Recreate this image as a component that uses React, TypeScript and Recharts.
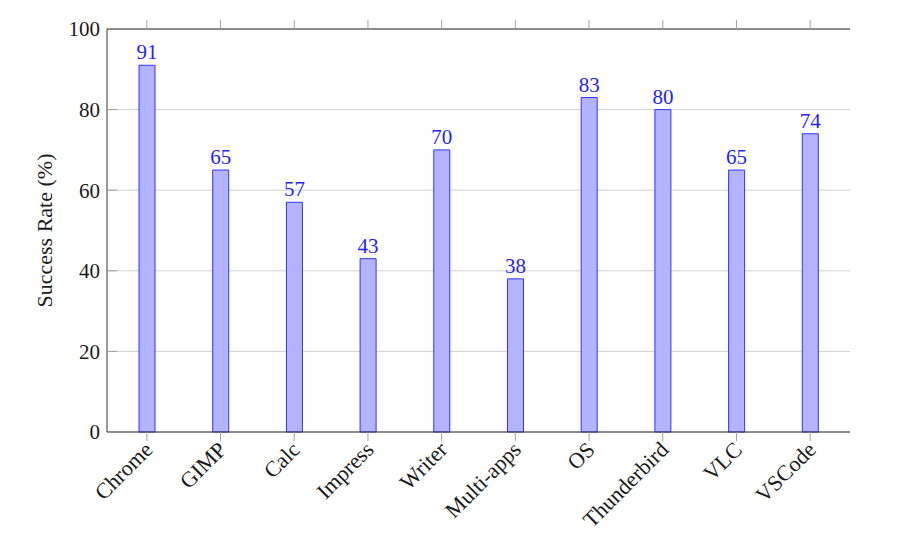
import { Bar, BarChart, CartesianGrid, Label, LabelList, ReferenceLine, XAxis, YAxis } from 'recharts'

const APPS = ['Chrome', 'GIMP', 'Calc', 'Impress', 'Writer', 'Multi-apps', 'OS', 'Thunderbird', 'VLC', 'VSCode']
const SUCCESS_RATE = [91, 65, 57, 43, 70, 38, 83, 80, 65, 74]
const Y_TICKS = [0, 20, 40, 60, 80, 100]

const rows = APPS.map((app, i) => ({ app, rate: SUCCESS_RATE[i] }))

const FONT = '"Liberation Serif", "Times New Roman", serif'
const INK = '#1a1a1a'
const FRAME = '#333333'
const TICK_GRAY = '#a0a0a0'
const PLOT_TOP = 29

function BottomTick(props: any) {
  const { x, y, payload } = props
  return (
    <g>
      {/* outer tick marks on the bottom and top edges of the frame */}
      <line x1={x} x2={x} y1={y - 12} y2={y - 3} stroke={TICK_GRAY} />
      <line x1={x} x2={x} y1={PLOT_TOP - 9} y2={PLOT_TOP} stroke={TICK_GRAY} />
      <text
        x={x}
        y={y}
        dy="0.45em"
        textAnchor="end"
        transform={`rotate(-45, ${x}, ${y})`}
        fill={INK}
        fontSize={22}
        fontFamily={FONT}
      >
        {payload.value}
      </text>
    </g>
  )
}

function LeftTick(props: any) {
  const { x, y, payload } = props
  const edge = payload.value === 0 || payload.value === 100
  return (
    <g>
      {!edge && <line x1={x + 7} x2={x + 17} y1={y} y2={y} stroke={TICK_GRAY} />}
      <text x={x} y={y} dy="0.35em" textAnchor="end" fill={INK} fontSize={21} fontFamily={FONT}>
        {payload.value}
      </text>
    </g>
  )
}

function YTitle(props: any) {
  const { x, y, height } = props.viewBox
  const cx = x + 44
  const cy = y + height / 2
  return (
    <text
      x={cx}
      y={cy}
      dy="0.35em"
      textAnchor="middle"
      transform={`rotate(-90, ${cx}, ${cy})`}
      fill={INK}
      fontSize={22}
      fontFamily={FONT}
    >
      Success Rate (%)
    </text>
  )
}

export default function App() {
  return (
    <div style={{ position: 'absolute', left: 0, top: 0, background: '#fff' }}>
      <BarChart
        width={900}
        height={550}
        data={rows}
        margin={{ top: PLOT_TOP, right: 50, bottom: 0, left: 0 }}
      >
        <CartesianGrid vertical={false} stroke="#d0d0d0" />
        <XAxis
          dataKey="app"
          height={118}
          interval={0}
          padding={{ left: 3, right: 3 }}
          tickSize={0}
          tickMargin={12}
          tickLine={false}
          axisLine={{ stroke: FRAME }}
          tick={<BottomTick />}
        />
        <YAxis
          domain={[0, 100]}
          ticks={Y_TICKS}
          width={107}
          tickLine={false}
          tickSize={0}
          tickMargin={7}
          axisLine={{ stroke: FRAME }}
          tick={<LeftTick />}
        >
          <Label content={<YTitle />} />
        </YAxis>
        <YAxis
          yAxisId="r"
          orientation="right"
          domain={[0, 100]}
          width={0}
          tick={false}
          tickLine={false}
          axisLine={{ stroke: FRAME }}
        />
        <ReferenceLine y={100} stroke={FRAME} />
        <Bar
          dataKey="rate"
          barSize={16}
          fill="#b3b3ff"
          stroke="#3333ff"
          strokeWidth={1}
          isAnimationActive={false}
        >
          <LabelList
            dataKey="rate"
            position="top"
            offset={6}
            fill="#1f1fff"
            fontSize={21}
            fontFamily={FONT}
          />
        </Bar>
      </BarChart>
    </div>
  )
}
